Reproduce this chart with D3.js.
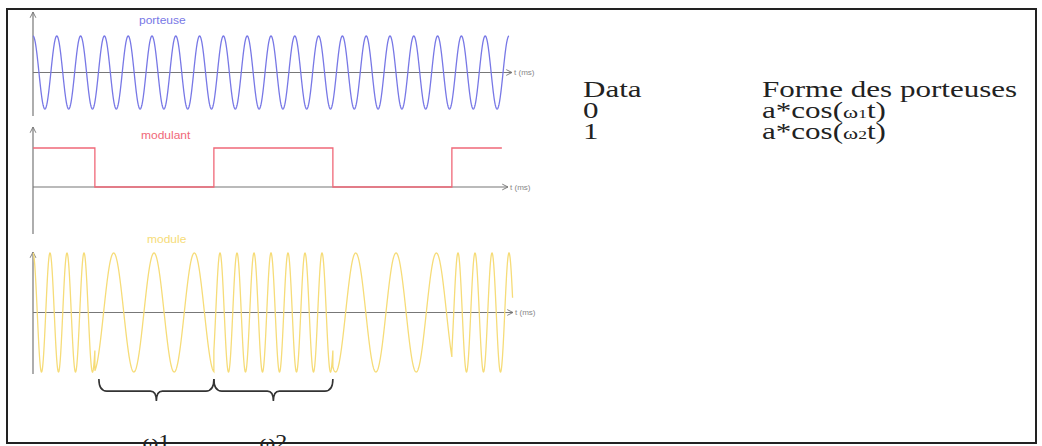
<!DOCTYPE html>
<html>
<head>
<meta charset="utf-8">
<script src="https://cdn.jsdelivr.net/npm/d3@7"></script>
<style>
  body { margin: 0; background: #fff; }
  svg { display: block; }
</style>
</head>
<body>
<div id="chart"></div>
<script>
// time axis in ms, one bit lasts 1 ms
const tMax = 4;
const bitEdges = [0, 0.52, 1.52, 2.52, 3.52, 3.94];
const bits = [1, 0, 1, 0, 1];
const carrierFreq = 5;           // cycles per ms (porteuse)
const fskFreqs = [2.95, 7];      // cycles per ms for data 0 (w1) and data 1 (w2)
const braceBits = [1, 2];        // bit slots marked with the braces
const braceLabels = ["\u03c91", "\u03c92"];
const panelLabels = ["porteuse", "modulant", "module"];
const tableHead = ["Data", "Forme des porteuses"];
const tableData = ["0", "1"];
const tableForms = [["a*cos(", "\u03c9", "1", "t)"], ["a*cos(", "\u03c9", "2", "t)"]];

const width = 1042, height = 446;
const svg = d3.select("#chart").append("svg")
  .attr("width", width)
  .attr("height", height);

svg.append("defs").append("marker")
  .attr("id", "arr")
  .attr("viewBox", "0 0 10 10")
  .attr("refX", 9).attr("refY", 5)
  .attr("markerWidth", 6).attr("markerHeight", 6)
  .attr("orient", "auto")
  .append("path")
    .attr("d", "M1,1 L9,5 L1,9")
    .attr("fill", "none")
    .attr("stroke", "#777")
    .attr("stroke-width", 1.3);

const x = d3.scaleLinear().domain([0, tMax]).range([33, 509]);

// three panels: carrier, modulating signal, modulated signal
const panels = [
  { y: d3.scaleLinear().domain([-1, 1]).range([109, 36]), top: 12, bottom: 116, axisEnd: 512, color: "#7878e6", label: [139, 24] },
  { y: d3.scaleLinear().domain([0, 1]).range([187, 148]), top: 127, bottom: 234, axisEnd: 508, color: "#f06878", label: [141, 139] },
  { y: d3.scaleLinear().domain([-1, 1]).range([372, 253]), top: 252, bottom: 374, axisEnd: 513, color: "#f6dc78", label: [147, 243] }
];

const sans = "Liberation Sans, Arial, sans-serif";
panels.forEach((p, i) => {
  const y0 = p.y(0);
  svg.append("line")
    .attr("x1", x(0)).attr("x2", x(0))
    .attr("y1", p.bottom).attr("y2", p.top)
    .attr("stroke", "#777").attr("stroke-width", 1.2)
    .attr("marker-end", "url(#arr)");
  svg.append("line")
    .attr("x1", x(0)).attr("x2", p.axisEnd)
    .attr("y1", y0).attr("y2", y0)
    .attr("stroke", "#777").attr("stroke-width", 1.2)
    .attr("marker-end", "url(#arr)");
  svg.append("text")
    .attr("transform", `translate(${p.axisEnd + 2},${y0 + 2.5}) scale(1.15,1)`)
    .attr("font-family", sans)
    .attr("font-size", 7)
    .attr("fill", "#888")
    .text("t (ms)");
  svg.append("text")
    .attr("transform", `translate(${p.label[0]},${p.label[1]}) scale(1.2,1)`)
    .attr("font-family", sans)
    .attr("font-size", 10)
    .attr("fill", p.color)
    .text(panelLabels[i]);
});

// carrier a*cos(w0 t)
const step = 0.002;
const carrier = d3.range(0, tMax + step / 2, step).map(t => [t, Math.cos(2 * Math.PI * carrierFreq * t)]);
svg.append("path")
  .datum(carrier)
  .attr("fill", "none")
  .attr("stroke", panels[0].color)
  .attr("stroke-width", 1.3)
  .attr("d", d3.line().x(d => x(d[0])).y(d => panels[0].y(d[1])));

// modulating square wave
const steps = bits.map((b, i) => [bitEdges[i], b]);
steps.push([bitEdges[bitEdges.length - 1], bits[bits.length - 1]]);
svg.append("path")
  .datum(steps)
  .attr("fill", "none")
  .attr("stroke", panels[1].color)
  .attr("stroke-width", 1.3)
  .attr("d", d3.line().curve(d3.curveStepAfter).x(d => x(d[0])).y(d => panels[1].y(d[1])));

// FSK modulated signal: frequency picked by the bit value
const fsk = [];
bits.forEach((b, i) => {
  const t1 = i === bits.length - 1 ? tMax + 0.03 : bitEdges[i + 1];
  d3.range(bitEdges[i], t1 + step / 2, step).forEach(t => {
    fsk.push([t, Math.cos(2 * Math.PI * fskFreqs[b] * t)]);
  });
});
svg.append("path")
  .datum(fsk)
  .attr("fill", "none")
  .attr("stroke", panels[2].color)
  .attr("stroke-width", 1.3)
  .attr("d", d3.line().x(d => x(d[0])).y(d => panels[2].y(d[1])));

// braces under the modulated signal
function brace(xa, xb, yTop, depth) {
  const xm = (xa + xb) / 2, yl = yTop + depth * 0.55, yb = yTop + depth;
  return `M${xa},${yTop} Q${xa},${yl} ${xa + 8},${yl} L${xm - 6},${yl} Q${xm},${yl} ${xm},${yb}` +
         ` M${xb},${yTop} Q${xb},${yl} ${xb - 8},${yl} L${xm + 6},${yl} Q${xm},${yl} ${xm},${yb}`;
}
const serif = "Liberation Serif, Times New Roman, serif";
braceBits.forEach((bi, k) => {
  const xa = x(bitEdges[bi]) + (k === 0 ? 4 : 0), xb = x(bitEdges[bi + 1]);
  svg.append("path")
    .attr("d", brace(xa, xb, 379, 22))
    .attr("fill", "none")
    .attr("stroke", "#333")
    .attr("stroke-width", 1.6);
  svg.append("text")
    .attr("transform", `translate(${(xa + xb) / 2},449) scale(1.2,1)`)
    .attr("text-anchor", "middle")
    .attr("font-family", serif)
    .attr("font-size", 20)
    .attr("fill", "#222")
    .text(braceLabels[k]);
});

// table on the right (text is a bit wider than tall in the picture)
const rowY = [97, 118, 139];
const colX = [583, 762];
const table = svg.append("g").attr("font-family", serif).attr("font-size", 23).attr("fill", "#222");
function cell(cx, cy) {
  return table.append("text").attr("transform", `translate(${cx},${cy}) scale(1.35,1)`);
}
cell(colX[0], rowY[0]).text(tableHead[0]);
cell(colX[1], rowY[0]).text(tableHead[1]);
tableData.forEach((d, i) => {
  cell(colX[0], rowY[i + 1]).text(d);
  const t = cell(colX[1], rowY[i + 1]);
  const f = tableForms[i];
  t.append("tspan").text(f[0]);
  t.append("tspan").attr("font-size", 17).text(f[1]);
  t.append("tspan").attr("font-size", 13).text(f[2]);
  t.append("tspan").text(f[3]);
});

// frame
svg.append("rect")
  .attr("x", 7).attr("y", 9)
  .attr("width", 1029).attr("height", 434)
  .attr("fill", "none")
  .attr("stroke", "#222")
  .attr("stroke-width", 2);
</script>
</body>
</html>
